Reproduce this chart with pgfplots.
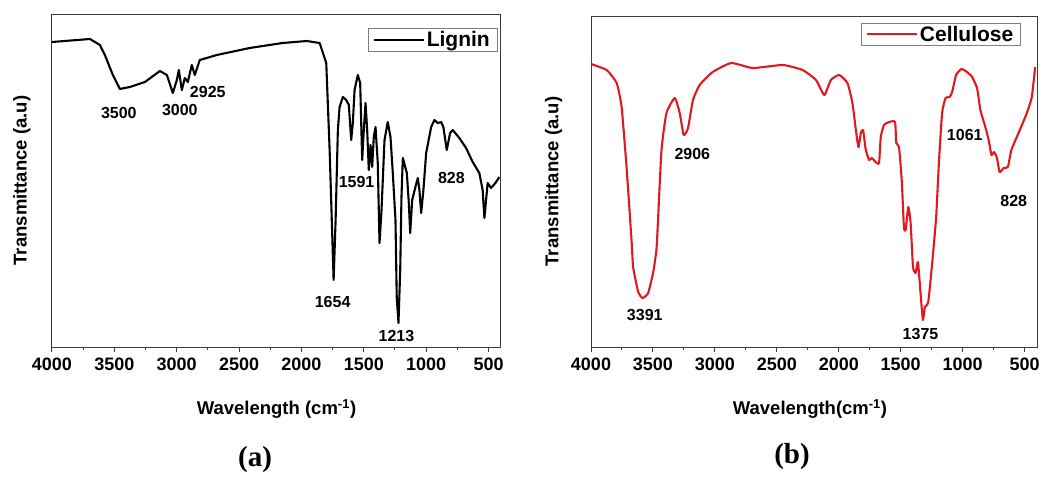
\documentclass[border=0pt]{standalone}
\usepackage{pgfplots}
\pgfplotsset{compat=1.18}
\usepackage{fontspec}
\setmainfont{Liberation Sans}
\newfontfamily\timesfont{Liberation Serif}
\definecolor{cellred}{RGB}{225,25,30}
\definecolor{framegray}{RGB}{60,60,60}
\tikzset{ann/.style={font=\fontsize{16}{17}\selectfont\bfseries}}
\begin{document}
\begin{tikzpicture}[x=1pt,y=1pt]
\path[use as bounding box] (0pt,0pt) rectangle (1042pt,-479pt);
\pgfplotsset{
  ftir/.style={
    scale only axis,
    x dir=reverse,
    xmin=400, xmax=4000, ymin=0,
    xtick={500,1000,...,4000},
    minor x tick num=1,
    ytick=\empty,
    xtick pos=left,
    tick align=outside,
    major tick length=5pt, minor tick length=3pt,
    axis line style={framegray, line width=1pt},
    tick style={framegray, line width=1pt},
    xticklabel style={font=\fontsize{18}{19}\selectfont\bfseries, yshift=-2pt},
    /pgf/number format/assume math mode=true,
    /pgf/number format/set thousands separator={},
    label style={font=\fontsize{18.5}{20}\selectfont\bfseries},
    legend cell align=left,
    legend image code/.code={\draw[##1, line width=2pt] (0pt,0pt) -- (50pt,0pt);},
  }
}
% ---------------- (a) Lignin ----------------
\begin{axis}[ftir, at={(276.5pt,-180.5pt)}, anchor=center, width=449pt, height=333pt, ymax=333,
  ylabel={Transmittance (a.u)},
  ylabel style={at={(axis description cs:-0.067,0.5)}, anchor=center},
  xlabel={Wavelength (cm\textsuperscript{-1})},
  xlabel style={at={(axis description cs:0.5,-0.186)}, anchor=center},
  legend style={at={(axis description cs:0.991,0.958)}, anchor=north east, draw=gray,
    font=\fontsize{21}{22}\selectfont\bfseries, inner xsep=5pt, inner ysep=1pt}]
\addplot[black, line width=2.1pt, line join=round] coordinates {
(4000,305) (3696,308) (3616,302) (3576,292) (3512,272) (3456,258) (3376,260) (3255,265)
(3135,276) (3079,272) (3031,254) (2999,267) (2983,277) (2959,257) (2935,269) (2911,265)
(2879,282) (2855,272) (2815,287) (2679,292) (2415,299) (2151,304) (1958,306) (1854,304)
(1801,284) (1774,197) (1742,67) (1726,127) (1708,217) (1694,240) (1668,250) (1641,247)
(1620,242) (1601,207) (1588,224) (1574,257) (1548,272) (1529,264) (1513,187) (1500,217)
(1486,244) (1473,217) (1460,177) (1446,202) (1433,180) (1420,210) (1406,220) (1388,184)
(1374,104) (1358,137) (1334,207) (1308,225) (1286,210) (1268,175) (1246,127) (1236,50)
(1222,24) (1208,77) (1198,150) (1187,189) (1155,174) (1139,144) (1128,114) (1112,147)
(1086,160) (1067,169) (1054,157) (1040,134) (1022,157) (1000,194) (960,220) (934,227)
(907,224) (880,225) (862,220) (835,197) (808,214) (787,217) (734,209) (680,199)
(627,185) (574,174) (547,157) (533,129) (507,164) (480,159) (445,164) (413,170)
};
\addlegendentry{Lignin}
\node[ann] at (axis cs:3464,234) {3500};
\node[ann] at (axis cs:2975,237) {3000};
\node[ann] at (axis cs:2751,255) {2925};
\node[ann] at (axis cs:1558,165) {1591};
\node[ann] at (axis cs:798,169) {828};
\node[ann] at (axis cs:1750,45) {1654};
\node[ann] at (axis cs:1238,11) {1213};
\end{axis}
% ---------------- (b) Cellulose ----------------
\begin{axis}[ftir, at={(814pt,-181.5pt)}, anchor=center, width=446pt, height=331pt, ymax=331,
  ylabel={Transmittance (a.u)},
  ylabel style={at={(axis description cs:-0.084,0.5)}, anchor=center},
  xlabel={Wavelength(cm\textsuperscript{-1})},
  xlabel style={at={(axis description cs:0.491,-0.187)}, anchor=center},
  legend style={at={(axis description cs:0.963,0.980)}, anchor=north east, draw=gray,
    font=\fontsize{21}{22}\selectfont\bfseries, inner xsep=5pt, inner ysep=1pt}]
\addplot[cellred, line width=2.1pt, line join=round, smooth, tension=0.3] coordinates {
(4000,283) (3874,277) (3793,264) (3753,240) (3713,180) (3673,107) (3660,80) (3619,55)
(3584,49) (3539,54) (3499,74) (3472,97) (3459,127) (3431,197) (3391,234) (3324,249)
(3284,234) (3252,212) (3217,219) (3177,247) (3123,262) (3018,275) (2868,284) (2694,279)
(2453,282) (2292,277) (2184,267) (2117,252) (2064,267) (1997,272) (1930,264) (1890,244)
(1862,217) (1841,200) (1822,214) (1804,217) (1782,197) (1755,187) (1734,189) (1702,185)
(1675,184) (1661,210) (1635,222) (1594,225) (1546,225) (1536,204) (1514,200) (1492,167)
(1474,120) (1460,117) (1439,140) (1420,124) (1401,80) (1380,74) (1361,85) (1340,54)
(1321,27) (1305,40) (1278,45) (1246,84) (1214,130) (1192,184) (1166,234) (1138,249)
(1106,250) (1085,255) (1053,272) (1010,278) (965,275) (924,270) (884,259) (857,237)
(817,220) (790,207) (768,192) (747,195) (723,189) (702,175) (669,179) (635,180)
(607,197) (549,214) (482,234) (442,250) (415,280)
};
\addlegendentry{Cellulose}
\node[ann] at (axis cs:3182,193) {2906};
\node[ann] at (axis cs:983,212) {1061};
\node[ann] at (axis cs:588,146) {828};
\node[ann] at (axis cs:3566,32) {3391};
\node[ann] at (axis cs:1340,13) {1375};
\end{axis}
\node[font=\timesfont\fontsize{29}{30}\selectfont\bfseries] at (255pt,-460pt) {(a)};
\node[font=\timesfont\fontsize{29}{30}\selectfont\bfseries] at (792pt,-457pt) {(b)};
\end{tikzpicture}
\end{document}
